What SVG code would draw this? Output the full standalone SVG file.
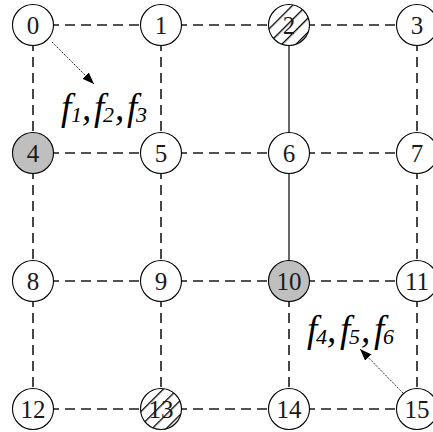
<svg xmlns="http://www.w3.org/2000/svg" width="433" height="432" viewBox="0 0 433 432">
<style>
.n{fill:#fff;stroke:#000;stroke-width:1.1}
.t{font-family:"Liberation Serif","Times New Roman","DejaVu Serif",serif;font-size:25px;text-anchor:middle;fill:#1a1a1a}
.d{stroke:#1a1a1a;stroke-width:1.6;stroke-dasharray:10 6;fill:none}
.s{stroke:#000;stroke-width:1.2;fill:none}
.a{stroke:#000;stroke-width:1;stroke-dasharray:1.2 1.2;fill:none}
.f{font-family:"Liberation Serif","Times New Roman","DejaVu Serif",serif;font-style:italic;font-size:37px;fill:#000}
.sub{font-size:22px}
</style>
<defs>
<pattern id="hatch" patternUnits="userSpaceOnUse" width="10" height="10" patternTransform="rotate(45)">
<rect width="10" height="10" fill="#fff"/>
<rect x="0" y="0" width="1.3" height="10" fill="#000"/>
</pattern>
<marker id="ah" markerWidth="13" markerHeight="11" refX="12" refY="5.5" orient="auto" markerUnits="userSpaceOnUse">
<path d="M0,1 L12,5.5 L0,10 Z" fill="#000" stroke="none"/>
</marker>
</defs>
<rect width="433" height="432" fill="#fff"/>
<g id="connectors">
<line class="d" x1="33" y1="25" x2="161" y2="25"/>
<line class="d" x1="161" y1="25" x2="289" y2="25"/>
<line class="d" x1="289" y1="25" x2="417" y2="25"/>
<line class="d" x1="33" y1="153" x2="161" y2="153"/>
<line class="d" x1="161" y1="153" x2="289" y2="153"/>
<line class="d" x1="289" y1="153" x2="417" y2="153"/>
<line class="d" x1="33" y1="281" x2="161" y2="281"/>
<line class="d" x1="161" y1="281" x2="289" y2="281"/>
<line class="d" x1="289" y1="281" x2="417" y2="281"/>
<line class="d" x1="33" y1="409" x2="161" y2="409"/>
<line class="d" x1="161" y1="409" x2="289" y2="409"/>
<line class="d" x1="289" y1="409" x2="417" y2="409"/>
<line class="d" x1="33" y1="25" x2="33" y2="153"/>
<line class="d" x1="33" y1="153" x2="33" y2="281"/>
<line class="d" x1="33" y1="281" x2="33" y2="409"/>
<line class="d" x1="161" y1="25" x2="161" y2="153"/>
<line class="d" x1="161" y1="153" x2="161" y2="281"/>
<line class="d" x1="161" y1="281" x2="161" y2="409"/>
<line class="s" x1="289" y1="25" x2="289" y2="153"/>
<line class="s" x1="289" y1="153" x2="289" y2="281"/>
<line class="d" x1="289" y1="281" x2="289" y2="409"/>
<line class="d" x1="417" y1="25" x2="417" y2="153"/>
<line class="d" x1="417" y1="153" x2="417" y2="281"/>
<line class="d" x1="417" y1="281" x2="417" y2="409"/>
<line class="a" x1="52" y1="42" x2="94" y2="84" marker-end="url(#ah)"/>
<line class="a" x1="403" y1="393" x2="360" y2="349" marker-end="url(#ah)"/>
</g>
<g id="node0"><circle class="n" cx="33" cy="25" r="20.5"/><text class="t" x="33" y="34">0</text></g>
<g id="node1"><circle class="n" cx="161" cy="25" r="20.5"/><text class="t" x="161" y="34">1</text></g>
<g id="node2"><circle class="n" cx="289" cy="25" r="20.5" style="fill:url(#hatch)"/><text class="t" x="289" y="34">2</text></g>
<g id="node3"><circle class="n" cx="417" cy="25" r="20.5"/><text class="t" x="417" y="34">3</text></g>
<g id="node4"><circle class="n" cx="33" cy="153" r="20.5" style="fill:#bfbfbf"/><text class="t" x="33" y="162">4</text></g>
<g id="node5"><circle class="n" cx="161" cy="153" r="20.5"/><text class="t" x="161" y="162">5</text></g>
<g id="node6"><circle class="n" cx="289" cy="153" r="20.5"/><text class="t" x="289" y="162">6</text></g>
<g id="node7"><circle class="n" cx="417" cy="153" r="20.5"/><text class="t" x="417" y="162">7</text></g>
<g id="node8"><circle class="n" cx="33" cy="281" r="20.5"/><text class="t" x="33" y="290">8</text></g>
<g id="node9"><circle class="n" cx="161" cy="281" r="20.5"/><text class="t" x="161" y="290">9</text></g>
<g id="node10"><circle class="n" cx="289" cy="281" r="20.5" style="fill:#bfbfbf"/><text class="t" x="289" y="290">10</text></g>
<g id="node11"><circle class="n" cx="417" cy="281" r="20.5"/><text class="t" x="417" y="290">11</text></g>
<g id="node12"><circle class="n" cx="33" cy="409" r="20.5"/><text class="t" x="33" y="418">12</text></g>
<g id="node13"><circle class="n" cx="161" cy="409" r="20.5" style="fill:url(#hatch)"/><text class="t" x="161" y="418">13</text></g>
<g id="node14"><circle class="n" cx="289" cy="409" r="20.5"/><text class="t" x="289" y="418">14</text></g>
<g id="node15"><circle class="n" cx="417" cy="409" r="20.5"/><text class="t" x="417" y="418">15</text></g>
<g id="label1"><text class="f" y="120"><tspan x="61">f</tspan><tspan class="sub" x="71" y="122">1</tspan><tspan x="82" y="120">,</tspan><tspan x="94">f</tspan><tspan class="sub" x="103" y="122">2</tspan><tspan x="115" y="120">,</tspan><tspan x="127">f</tspan><tspan class="sub" x="136" y="122">3</tspan></text></g>
<g id="label2"><text class="f" y="342"><tspan x="307">f</tspan><tspan class="sub" x="316" y="344">4</tspan><tspan x="327" y="342">,</tspan><tspan x="340">f</tspan><tspan class="sub" x="349" y="344">5</tspan><tspan x="361" y="342">,</tspan><tspan x="374">f</tspan><tspan class="sub" x="383" y="344">6</tspan></text></g>
</svg>
